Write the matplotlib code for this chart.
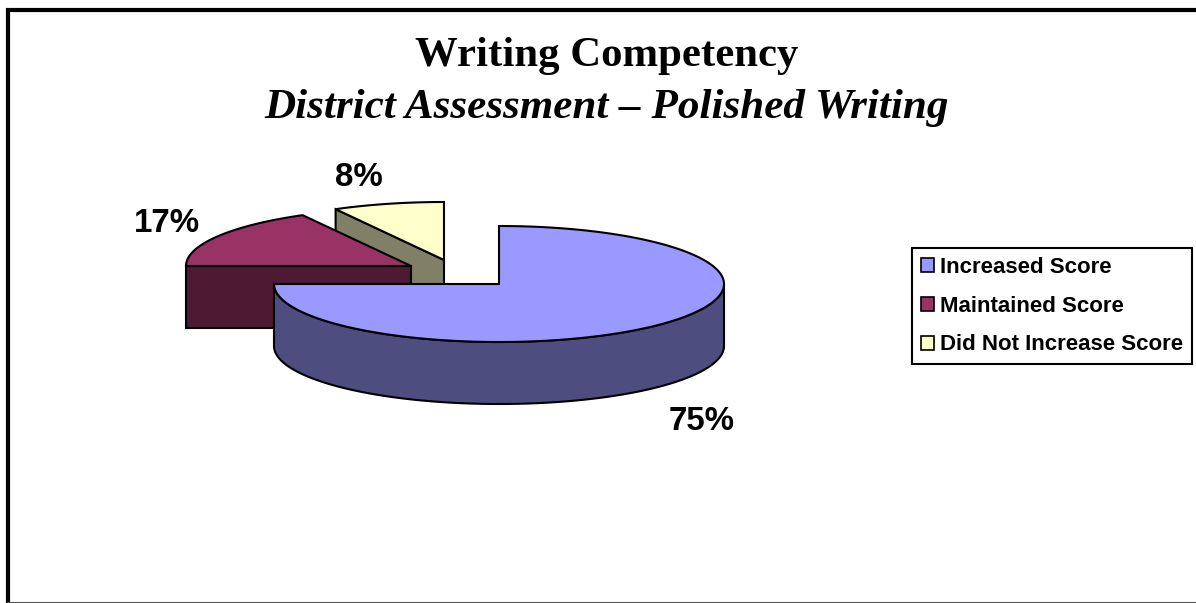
import numpy as np
import matplotlib
matplotlib.use("Agg")
from matplotlib import pyplot as plt
from matplotlib.patches import Patch, Polygon

# values
categories = ["Increased Score", "Maintained Score", "Did Not Increase Score"]
values = [75, 17, 8]
top_colors = ["#9999FF", "#993366", "#FFFFCC"]
side_colors = ["#4D4D80", "#4D1933", "#808066"]

# pie geometry in pixels
RX = 225
RY = 58
DEPTH = 62
centers = [(499, 284), (411, 266), (444, 260)]
label_pos = [(702, 422), (167, 223), (359, 178)]

W, H = 1196, 603
LW = 1.5

fig = plt.figure(figsize=(W / 100, H / 100), dpi=100)
ax = fig.add_axes([0, 0, 1, 1])
ax.set_xlim(0, W)
ax.set_ylim(H, 0)
ax.axis("off")


def rim(c, a0, a1):
    # angles clockwise from 12 o'clock, in degrees
    t = np.radians(np.linspace(a0, a1, 200))
    return c[0] + RX * np.sin(t), c[1] - RY * np.cos(t)


def poly(xs, ys, color, z):
    ax.add_patch(Polygon(np.column_stack([xs, ys]), closed=True, facecolor=color,
                         edgecolor="black", linewidth=LW, joinstyle="miter", zorder=z))


edges = np.cumsum([0] + values) / sum(values) * 360

# yellow slice at the back, then maroon, blue goes last
c = centers[2]
x, y = rim(c, edges[2], edges[3])
poly([x[0], c[0], c[0], x[0]], [y[0], c[1], c[1] + DEPTH, y[0] + DEPTH], side_colors[2], 1)
poly(np.r_[c[0], x], np.r_[c[1], y], top_colors[2], 2)

c = centers[1]
x, y = rim(c, edges[1], edges[2])
poly([x[0], c[0], c[0], x[0]], [c[1], c[1], c[1] + DEPTH, c[1] + DEPTH], side_colors[1], 3)
poly(np.r_[c[0], x], np.r_[c[1], y], top_colors[1], 4)

c = centers[0]
x, y = rim(c, 90, edges[1])
poly(np.r_[x, x[::-1]], np.r_[y, y[::-1] + DEPTH], side_colors[0], 5)
x, y = rim(c, edges[0], edges[1])
poly(np.r_[c[0], x], np.r_[c[1], y], top_colors[0], 6)

for v, (lx, ly) in zip(values, label_pos):
    ax.text(lx, ly, "{}%".format(v), ha="center", va="center", fontsize=23.8,
            fontweight="bold", family="Liberation Sans", zorder=7)

ax.text(607, 56, "Writing Competency", ha="center", va="center", fontsize=30.8,
        fontweight="bold", family="Liberation Serif")
ax.text(607, 108, "District Assessment \u2013 Polished Writing", ha="center", va="center",
        fontsize=31.1, fontweight="bold", fontstyle="italic", family="Liberation Serif")

handles = [Patch(facecolor=col, edgecolor="black", linewidth=1.2) for col in top_colors]
leg = ax.legend(handles, categories, loc="upper left", bbox_to_anchor=(912 / W, 1 - 248 / H),
                bbox_transform=fig.transFigure, borderaxespad=0, frameon=True, fancybox=False,
                framealpha=1, edgecolor="black", handlelength=0.58, handleheight=0.58,
                handletextpad=0.3, labelspacing=0.8, borderpad=0.4,
                prop={"family": "Liberation Sans", "weight": "bold", "size": 16})
leg.get_frame().set_linewidth(1.5)

# chart frame, the right side runs off the image
ax.plot([8, 8, W + 5], [H + 5, 10, 10], color="black", lw=3, solid_joinstyle="miter", clip_on=False)
ax.plot([8, W + 5], [602.5, 602.5], color="#555555", lw=1.5)

plt.savefig("out.png", dpi=100)
